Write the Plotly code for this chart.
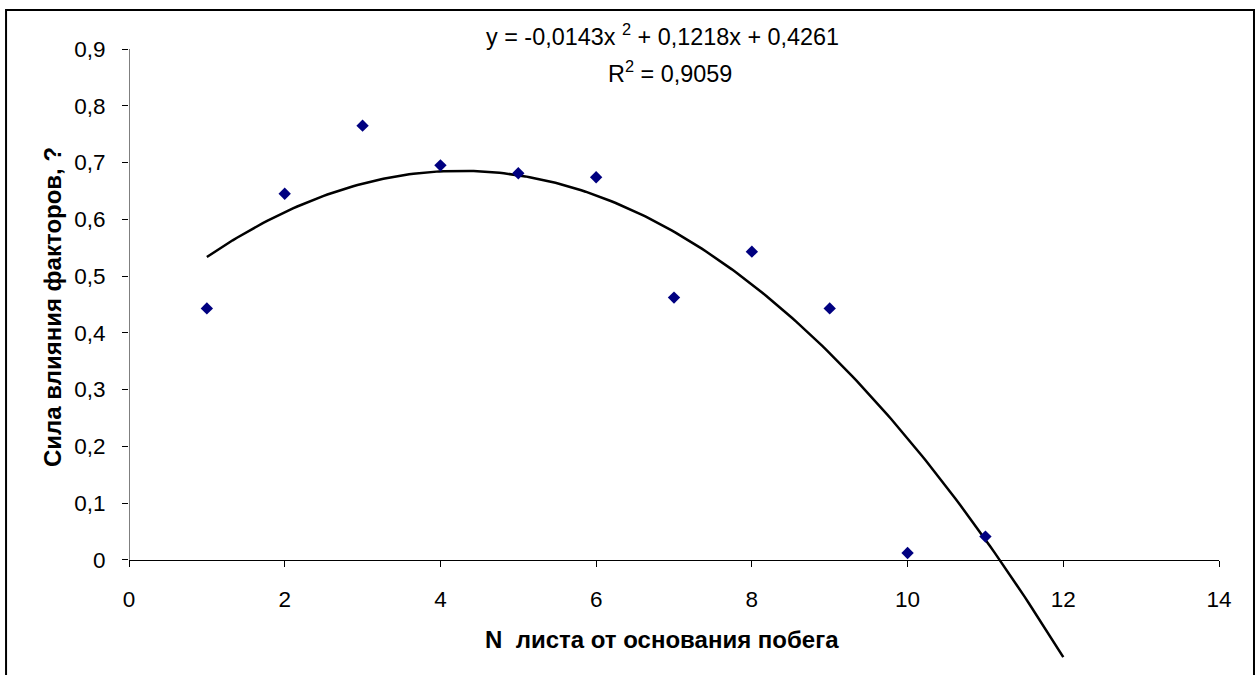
import numpy as np
import plotly.graph_objects as go

# Leaf position from the base of the shoot and the measured factor influence
leaf_no = [1, 2, 3, 4, 5, 6, 7, 8, 9, 10, 11]
influence = [0.443, 0.645, 0.765, 0.695, 0.681, 0.674, 0.462, 0.543, 0.443, 0.012, 0.041]

# Polynomial (2nd order) trendline coefficients and fit quality
coef_a, coef_b, coef_c = -0.0143, 0.1218, 0.4261
r_squared = 0.9059
trend_x_start, trend_x_end = 1, 12

y_tick_vals = [0, 0.1, 0.2, 0.3, 0.4, 0.5, 0.6, 0.7, 0.8, 0.9]
y_tick_text = ["0", "0,1", "0,2", "0,3", "0,4", "0,5", "0,6", "0,7", "0,8", "0,9"]
x_tick_vals = [0, 2, 4, 6, 8, 10, 12, 14]

FONT = "Liberation Sans, Arial, sans-serif"
Y_MIN, Y_MAX = -0.18, 0.9

tx = np.linspace(trend_x_start, trend_x_end, 200)
ty = coef_a * tx ** 2 + coef_b * tx + coef_c

fig = go.Figure()
fig.add_trace(go.Scatter(
    x=tx, y=ty, mode="lines",
    line=dict(color="black", width=2.5),
    hoverinfo="skip", showlegend=False,
))
fig.add_trace(go.Scatter(
    x=leaf_no, y=influence, mode="markers",
    marker=dict(symbol="diamond", size=9.5, color="#000080"),
    showlegend=False,
))

def fmt(v):
    return f"{v:.4f}".replace(".", ",")

eq_text = (f"y = {fmt(coef_a)}x <sup>2</sup> + {fmt(coef_b)}x + {fmt(coef_c)}")
r2_text = f"R<sup>2</sup> = {fmt(r_squared)}"

fig.update_layout(
    width=1256, height=675,
    margin=dict(l=129, r=37, t=49, b=13),
    paper_bgcolor="white", plot_bgcolor="white",
    font=dict(family=FONT, size=22, color="black"),
    xaxis=dict(
        range=[0, 14], tickvals=x_tick_vals,
        showgrid=False, zeroline=False,
        showline=True, linecolor="black", linewidth=1,
        ticks="outside", ticklen=6, tickcolor="black",
        anchor="free", position=(0 - Y_MIN) / (Y_MAX - Y_MIN),
        ticklabelstandoff=13,
        tickfont=dict(size=22.5, family=FONT),
    ),
    yaxis=dict(
        range=[Y_MIN, Y_MAX], tickvals=y_tick_vals, ticktext=y_tick_text,
        showgrid=False, zeroline=False, showline=False,
        ticks="outside", ticklen=6, tickcolor="black",
        ticklabelstandoff=12,
        tickfont=dict(size=22.5, family=FONT),
    ),
    shapes=[
        # vertical axis line spanning only the labelled range
        dict(type="line", xref="x", yref="y", x0=0, x1=0, y0=0, y1=Y_MAX,
             line=dict(color="black", width=1)),
        # chart frame
        dict(type="rect", xref="paper", yref="paper",
             x0=-0.1128, x1=1.0321, y0=-0.06, y1=1.0636,
             line=dict(color="black", width=2), layer="above"),
    ],
    annotations=[
        dict(text="N  листа от основания побега", xref="paper", yref="paper",
             x=0.489, y=0.0359, xanchor="center", yanchor="middle",
             showarrow=False, font=dict(size=24, family=FONT, weight="bold")),
        dict(text="Сила влияния факторов, ?", xref="paper", yref="paper",
             x=-0.0706, y=0.579, xanchor="center", yanchor="middle",
             textangle=-90, showarrow=False,
             font=dict(size=24, family=FONT, weight="bold")),
        dict(text=eq_text, xref="paper", yref="paper",
             x=0.489, y=1.0228, xanchor="center", yanchor="middle",
             showarrow=False, font=dict(size=23.4, family=FONT)),
        dict(text=r2_text, xref="paper", yref="paper",
             x=0.4963, y=0.9625, xanchor="center", yanchor="middle",
             showarrow=False, font=dict(size=23.4, family=FONT)),
    ],
)

fig.write_html("out.html")
